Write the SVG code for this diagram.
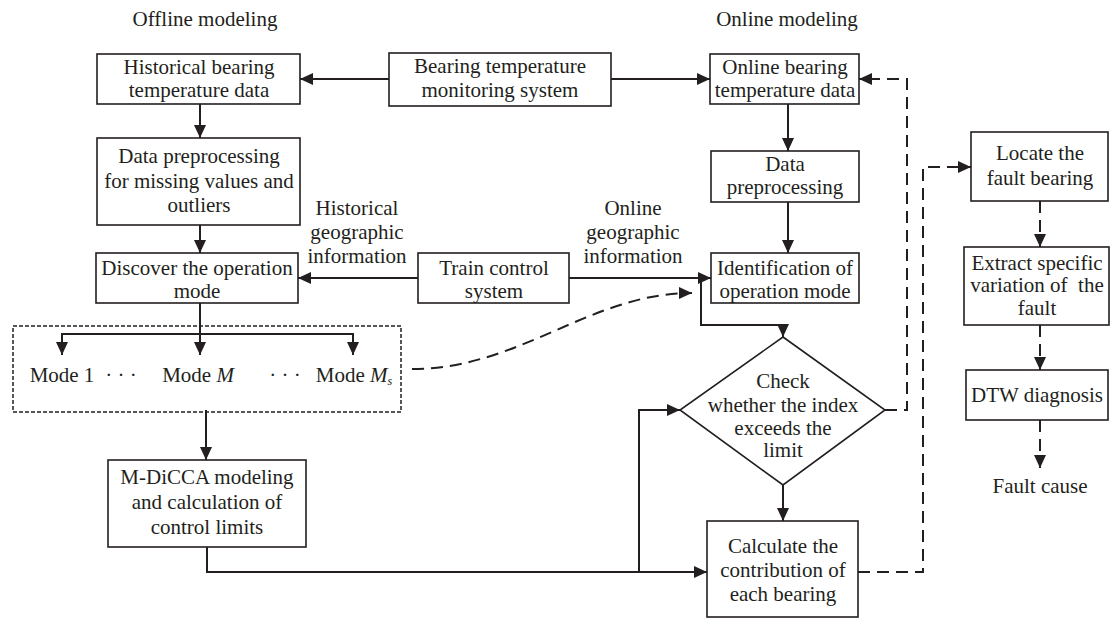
<svg xmlns="http://www.w3.org/2000/svg" width="1110" height="619" viewBox="0 0 1110 619">
<style>
text{font-family:"Liberation Serif","Times New Roman",serif;font-size:21px;fill:#231f20;text-anchor:middle}
.box{fill:#fff;stroke:#231f20;stroke-width:1.6}
.c{fill:none;stroke:#231f20;stroke-width:2}
.d{fill:none;stroke:#231f20;stroke-width:2;stroke-dasharray:12 7}
</style>
<defs>
<marker id="ah" markerUnits="userSpaceOnUse" markerWidth="13" markerHeight="13" refX="13" refY="6" orient="auto"><path d="M0,0 L13,6 L0,12 z" fill="#231f20"/></marker>
</defs>
<rect width="1110" height="619" fill="#fff"/>
<text x="205" y="26">Offline modeling</text>
<text x="787" y="26">Online modeling</text>
<g id="connectors">
<path class="c" d="M389,79 H300" marker-end="url(#ah)"/>
<path class="c" d="M611,79 H710" marker-end="url(#ah)"/>
<path class="c" d="M200,104 V138" marker-end="url(#ah)"/>
<path class="c" d="M200,225 V253" marker-end="url(#ah)"/>
<path class="c" d="M418,278 H298" marker-end="url(#ah)"/>
<path class="c" d="M569,278 H711" marker-end="url(#ah)"/>
<path class="c" d="M788,104 V151" marker-end="url(#ah)"/>
<path class="c" d="M788,202 V253" marker-end="url(#ah)"/>
<path class="c" d="M200,303 V355" marker-end="url(#ah)"/>
<path class="c" d="M62,334 H353"/>
<path class="c" d="M62,333 V355" marker-end="url(#ah)"/>
<path class="c" d="M353,333 V355" marker-end="url(#ah)"/>
<path class="c" d="M206,410 V460" marker-end="url(#ah)"/>
<path class="c" d="M207,547 V572 H707" marker-end="url(#ah)"/>
<path class="c" d="M639,572 V410 H680" marker-end="url(#ah)"/>
<path class="c" d="M701,278 V325 H783 V337" marker-end="url(#ah)"/>
<path class="c" d="M783,485 V521" marker-end="url(#ah)"/>
<path class="d" d="M885,410 H907 V79 H859" marker-end="url(#ah)"/>
<path class="d" d="M858,572 H923 V167 H971" marker-end="url(#ah)"/>
<path class="d" d="M412,369 C520,369 590,293 692,293" marker-end="url(#ah)"/>
<path class="d" d="M1040,201 V247" marker-end="url(#ah)"/>
<path class="d" d="M1040,325 V370" marker-end="url(#ah)"/>
<path class="d" d="M1040,420 V468" marker-end="url(#ah)"/>
</g>
<g id="hist"><rect class="box" x="97" y="54" width="203" height="50"/><text x="199" y="74">Historical bearing</text><text x="199" y="97">temperature data</text></g>
<g id="btms"><rect class="box" x="389" y="53" width="222" height="53"/><text x="500" y="73">Bearing temperature</text><text x="500" y="97">monitoring system</text></g>
<g id="online"><rect class="box" x="710" y="54" width="149" height="50"/><text x="785" y="74">Online bearing</text><text x="785" y="97">temperature data</text></g>
<g id="prepoff"><rect class="box" x="97" y="138" width="203" height="87"/><text x="199" y="163">Data preprocessing</text><text x="199" y="188">for missing values and</text><text x="199" y="212">outliers</text></g>
<g id="prepon"><rect class="box" x="711" y="151" width="148" height="51"/><text x="785" y="171">Data</text><text x="785" y="194">preprocessing</text></g>
<g id="discover"><rect class="box" x="96" y="253" width="202" height="50"/><text x="197" y="275">Discover the operation</text><text x="197" y="298">mode</text></g>
<g id="tcs"><rect class="box" x="418" y="253" width="151" height="50"/><text x="494" y="275">Train control</text><text x="494" y="298">system</text></g>
<g id="ident"><rect class="box" x="711" y="253" width="148" height="50"/><text x="785" y="275">Identification of</text><text x="785" y="298">operation mode</text></g>
<g id="hgeo"><text x="357" y="215">Historical</text><text x="357" y="239">geographic</text><text x="357" y="263">information</text></g>
<g id="ogeo"><text x="633" y="215">Online</text><text x="633" y="239">geographic</text><text x="633" y="263">information</text></g>
<g id="modes">
<rect x="13" y="326" width="388" height="86" fill="none" stroke="#231f20" stroke-width="1.5" stroke-dasharray="4 2"/>
<text x="62" y="382">Mode 1</text>
<text x="121" y="382">· · ·</text>
<text x="198" y="382">Mode <tspan font-style="italic">M</tspan></text>
<text x="285" y="382">· · ·</text>
<text x="354" y="382">Mode <tspan font-style="italic">M</tspan><tspan font-style="italic" font-size="12" dy="3">s</tspan></text>
</g>
<g id="mdicca"><rect class="box" x="108" y="460" width="198" height="87"/><text x="207" y="484">M-DiCCA modeling</text><text x="207" y="509">and calculation of</text><text x="207" y="534">control limits</text></g>
<g id="check"><polygon class="box" points="783,337 885,410 783,485 680,410"/><text x="783" y="388">Check</text><text x="783" y="412">whether the index</text><text x="783" y="435">exceeds the</text><text x="783" y="457">limit</text></g>
<g id="calc"><rect class="box" x="707" y="521" width="151" height="96"/><text x="783" y="553">Calculate the</text><text x="783" y="577">contribution of</text><text x="783" y="601">each bearing</text></g>
<g id="locate"><rect class="box" x="971" y="132" width="137" height="69"/><text x="1040" y="160">Locate the</text><text x="1040" y="185">fault bearing</text></g>
<g id="extract"><rect class="box" x="964" y="247" width="145" height="78"/><text x="1037" y="270">Extract specific</text><text x="1037" y="292" xml:space="preserve">variation of  the</text><text x="1037" y="315">fault</text></g>
<g id="dtw"><rect class="box" x="966" y="370" width="142" height="50"/><text x="1037" y="402">DTW diagnosis</text></g>
<g id="cause"><text x="1040" y="493">Fault cause</text></g>
</svg>
